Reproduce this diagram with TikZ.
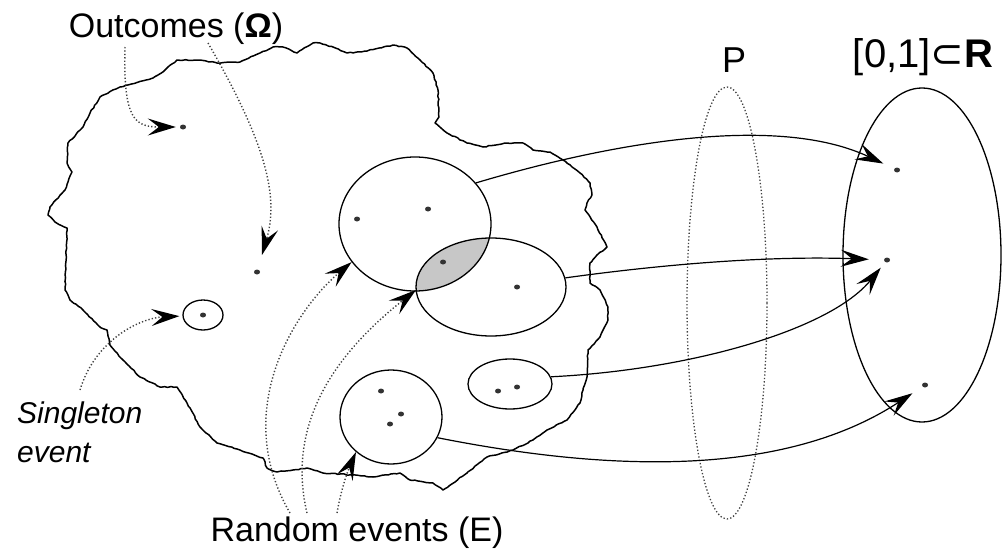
\documentclass[tikz,border=0pt]{standalone}
\usepackage{fontspec}
\setmainfont{Liberation Sans}
\newfontfamily\symfont{DejaVu Sans}
\usetikzlibrary{arrows.meta,shapes.geometric,decorations.pathmorphing}

\begin{document}
\begin{tikzpicture}[x=1pt,y=-1pt,
  blob/.style={line width=1.5pt, line join=round, decorate,
    decoration={random steps,segment length=3pt,amplitude=0.5pt}},
  evt/.style={ellipse, draw, line width=1.3pt, inner sep=0pt},
  pt/.style={ellipse, fill=black!80, inner sep=0pt, minimum width=6pt, minimum height=5pt},
  map/.style={-{Stealth[length=28pt,width=17pt,inset=11pt]}, line width=1.2pt},
  hint/.style={-{Stealth[length=28pt,width=17pt,inset=11pt,black]}, line width=1.4pt, black!75,
    dash pattern=on 1.3pt off 2.1pt},
  pdots/.style={ellipse, draw=black!75, line width=1.3pt, inner sep=0pt,
    dash pattern=on 1.3pt off 2.1pt},
  lbl/.style={font=\fontsize{34}{40}\selectfont, inner sep=0pt, anchor=base},
  ital/.style={font=\fontsize{30}{39}\selectfont\itshape, inner sep=0pt, anchor=base west}]
\pgfmathsetseed{7}
\useasboundingbox (0,0) rectangle (1002,557);

% sample space outline
\draw[blob] (48,215) -- (50,207) -- (65,190) -- (72,172) -- (67,163) -- (68,143)
  -- (83,127) -- (90,113) -- (100,97) -- (120,87) -- (153,78) -- (165,70)
  -- (177,60) -- (200,60) -- (217,63) -- (240,62) -- (260,53) -- (273,47)
  -- (283,47) -- (297,53) -- (313,43) -- (320,43) -- (333,47) -- (347,53)
  -- (367,51) -- (393,45) -- (407,48) -- (420,60) -- (433,73) -- (438,90)
  -- (439,117) -- (435,123) -- (447,133) -- (467,143) -- (483,147) -- (507,143)
  -- (523,143) -- (533,150) -- (550,152) -- (563,160) -- (580,173) -- (590,183)
  -- (592,195) -- (587,203) -- (585,210) -- (597,227) -- (607,247) -- (597,255)
  -- (590,263) -- (590,283) -- (600,290) -- (608,307) -- (608,320) -- (600,337)
  -- (588,350) -- (587,377) -- (583,390) -- (580,403) -- (567,420) -- (547,430)
  -- (533,440) -- (513,450) -- (487,457) -- (467,473) -- (443,490) -- (433,483)
  -- (410,480) -- (400,473) -- (373,477) -- (353,475) -- (323,473) -- (307,468)
  -- (293,470) -- (277,472) -- (267,468) -- (263,458) -- (240,450) -- (217,443)
  -- (200,427) -- (187,403) -- (177,387) -- (160,387) -- (140,377) -- (123,360)
  -- (110,345) -- (107,330) -- (100,327) -- (83,310) -- (70,300) -- (65,290)
  -- (67,228) -- (55,222) -- cycle;

% shaded overlap of the two events
\begin{scope}
  \clip (415,224) ellipse [x radius=76, y radius=67];
  \fill[black!22] (491,287) ellipse [x radius=75, y radius=49];
\end{scope}

% events
\node[evt, minimum width=152pt, minimum height=134pt] (e1) at (415,224) {};
\node[evt, minimum width=150pt, minimum height=98pt] (e2) at (491,287) {};
\node[evt, minimum width=84pt, minimum height=50pt] (e3) at (510,384) {};
\node[evt, minimum width=102pt, minimum height=94pt] (e4) at (391,417) {};
\node[evt, minimum width=40pt, minimum height=30pt] (sg) at (203,315) {};
\coordinate (x12) at (416,290);

% outcomes
\node[pt] (w1) at (183,127) {};
\node[pt] (w2) at (257,272) {};
\node[pt] (w3) at (203,315) {};
\node[pt] (a1) at (357,219) {};
\node[pt] (a2) at (428,209) {};
\node[pt] (a3) at (443,262) {};
\node[pt] (b1) at (517,287) {};
\node[pt] (c1) at (498,391) {};
\node[pt] (c2) at (517,387) {};
\node[pt] (d1) at (381,391) {};
\node[pt] (d2) at (401,414) {};
\node[pt] (d3) at (390,424) {};

% probability map and the unit interval
\node[pdots, minimum width=80pt, minimum height=432pt] (pmap) at (727,303) {};
\node[evt, minimum width=158pt, minimum height=334pt] (unitset) at (922,255) {};
\node[pt] (t1) at (897,170) {};
\node[pt] (t2) at (887,260) {};
\node[pt] (t3) at (925,385) {};

% labels
\node[lbl] (omega) at (176,37) {Outcomes (\textbf{Ω})};
\node[lbl, font=\fontsize{36}{40}\selectfont] (plabel) at (734,72) {P};
\node[lbl, font=\fontsize{40}{44}\selectfont] (unit) at (923,67) {[0,1]{\symfont ⊂}\textbf{R}};
\node[lbl] (rand) at (357,541) {Random events (E)};
\node[ital] (single1) at (17,423) {Singleton};
\node[ital] (single2) at (17,462) {event};

% free ends of the pointer lines
\coordinate (o1s) at (125,47);
\coordinate (o2s) at (208,43);
\coordinate (s1s) at (80,390);
\coordinate (r1s) at (290,513);
\coordinate (r2s) at (307,513);
\coordinate (r3s) at (337,513);

% pointers from the labels
\draw[hint, shorten >=4pt] (o1s) .. controls (123,120) and (135,127) .. (w1);
\draw[hint, shorten >=15pt] (o2s) .. controls (270,150) and (278,200) .. (w2);
\draw[hint, shorten >=3pt] (s1s) .. controls (95,340) and (140,318) .. (sg);
\draw[hint] (r1s) .. controls (230,410) and (295,310) .. (e1.211);
\draw[hint] (r2s) .. controls (285,420) and (340,350) .. (x12);
\draw[hint] (r3s) .. controls (340,495) and (346,475) .. (e4.225);

% the mapping P
\draw[map, shorten >=12pt] (e1.34) .. controls (620,140) and (780,115) .. (t1);
\draw[map, shorten >=15pt] (e2.7) .. controls (680,262) and (780,256) .. (t2);
\draw[map, shorten >=7pt] (e3.10) .. controls (690,370) and (830,330) .. (t2);
\draw[map, shorten >=12pt] (e4.-24) .. controls (600,470) and (780,480) .. (t3);
\end{tikzpicture}
\end{document}
